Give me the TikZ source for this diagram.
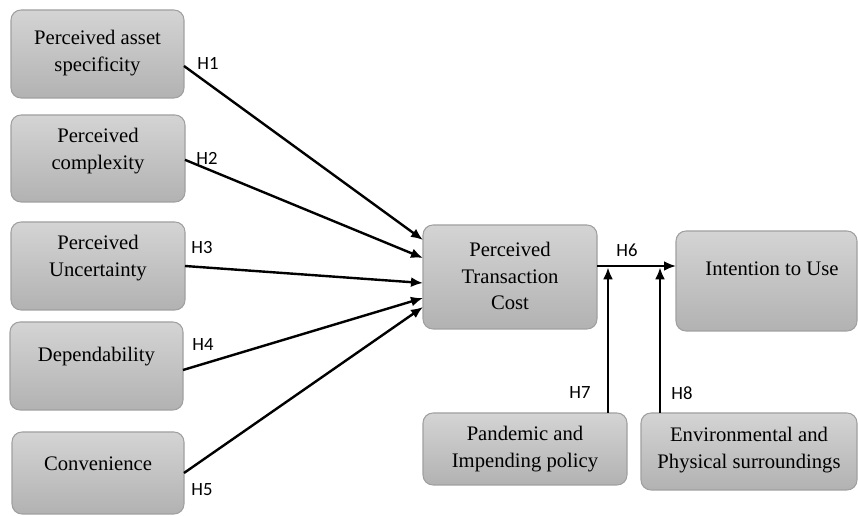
\documentclass[tikz,border=0pt]{standalone}
\usepackage{fontspec}
\setmainfont{Liberation Serif}
\newfontfamily\lblfont{Carlito}
\usetikzlibrary{arrows.meta,calc}
\definecolor{boxtop}{HTML}{D4D4D4}
\definecolor{boxbot}{HTML}{B2B2B2}
\definecolor{boxline}{HTML}{A0A0A0}
\begin{document}
\begin{tikzpicture}[x=0.75pt,y=-0.75pt,
  box/.style={draw=boxline, line width=0.8pt, rounded corners=7.5pt, top color=boxtop, bottom color=boxbot, inner sep=0pt, outer sep=0pt},
  txt/.style={align=center, font=\fontsize{15.5}{20}\selectfont, text=black, inner sep=0pt},
  hlab/.style={font=\lblfont\fontsize{14}{16}\selectfont, text=black, inner sep=0pt},
  arr/.style={line width=1.8pt, -{Latex[length=9pt,width=7.5pt]}}]
\useasboundingbox (0,0) rectangle (858,516);
% boxes
\node[box, minimum width=129.75pt, minimum height=66pt] (b1) at (97.5,54) {};
\node[box, minimum width=130.5pt, minimum height=65.25pt] (b2) at (98,158.5) {};
\node[box, minimum width=130.5pt, minimum height=66pt] (b3) at (98,266) {};
\node[box, minimum width=129.75pt, minimum height=66pt] (b4) at (96.5,366) {};
\node[box, minimum width=129pt, minimum height=61.5pt] (b5) at (98,473) {};
\node[box, minimum width=130.5pt, minimum height=78pt] (ptc) at (510,277) {};
\node[box, minimum width=135.75pt, minimum height=75pt] (itu) at (766.5,281) {};
\node[box, minimum width=153pt, minimum height=54pt] (pan) at (525,449) {};
\node[box, minimum width=162pt, minimum height=57.75pt] (env) at (749,451.5) {};
% texts
\node[txt] (t1) at (97.5,53) {Perceived asset\\specificity};
\node[txt] (t2) at (98,151) {Perceived\\complexity};
\node[txt] (t3) at (98,258) {Perceived\\Uncertainty};
\node[txt] (t4) at (96.5,357) {Dependability};
\node[txt] (t5) at (98,464) {Convenience};
\node[txt] (tptc) at (510,276) {Perceived\\Transaction\\Cost};
\node[txt] (titu) at (772,269) {Intention to Use};
\node[txt] (tpan) at (525,449) {Pandemic and\\Impending policy};
\node[txt] (tenv) at (749,450) {Environmental and\\Physical surroundings};
% arrows to PTC
\draw[arr] ([yshift=-9pt]b1.east) -- ([yshift=27.75pt]ptc.west);
\draw[arr] ([yshift=-1pt]b2.east) -- ([yshift=14.25pt]ptc.west);
\draw[arr] (b3.east) -- ([yshift=-4.5pt]ptc.west);
\draw[arr] ([yshift=-3pt]b4.east) -- ([yshift=-15.75pt]ptc.west);
\draw[arr] (b5.east) -- ([yshift=-22.5pt]ptc.west);
% H6, H7, H8
\coordinate (h6s) at ([yshift=8.25pt]ptc.east);
\draw[arr] (h6s) -- (h6s -| itu.west);
\coordinate (h7s) at ([xshift=62.25pt]pan.north);
\draw[arr] (h7s) -- ([yshift=-1pt]h7s |- h6s);
\coordinate (h8s) at ([xshift=-66.75pt]env.north);
\draw[arr] (h8s) -- ([yshift=-1pt]h8s |- h6s);
% labels
\node[hlab] (l1) at (208,63) {H1};
\node[hlab] (l2) at (207,158) {H2};
\node[hlab] (l3) at (202,248) {H3};
\node[hlab] (l4) at (203,345) {H4};
\node[hlab] (l5) at (202,490) {H5};
\node[hlab] (l6) at (627,250) {H6};
\node[hlab] (l7) at (580,393) {H7};
\node[hlab] (l8) at (682,393) {H8};
\end{tikzpicture}
\end{document}
